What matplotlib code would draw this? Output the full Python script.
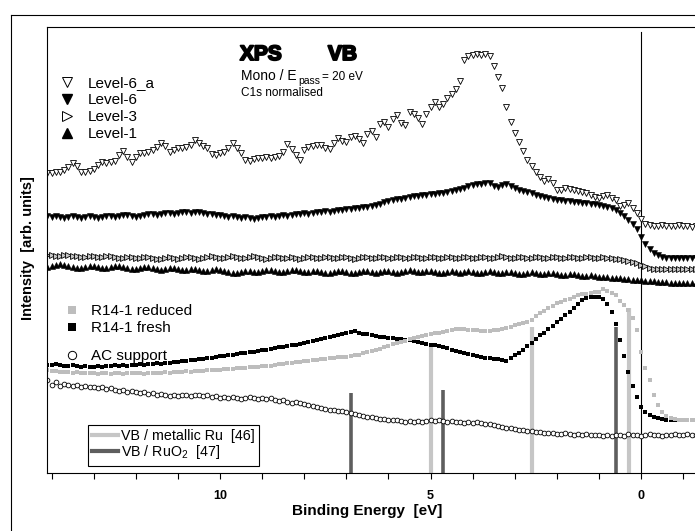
import numpy as np
import matplotlib
matplotlib.use("Agg")
import matplotlib.pyplot as plt
from matplotlib.lines import Line2D
from matplotlib import patheffects

plt.rcParams['font.family'] = ['Liberation Sans', 'DejaVu Sans']
plt.rcParams['mathtext.default'] = 'regular'

# --- datos (energia de enlace en eV, intensidad en unidades arbitrarias) ---
energia = np.arange(141, -14, -1) / 10.0   # 14.1 ... -1.3 eV

level6a = [
    300, 300, 301, 301, 303, 306, 310, 307, 301, 301,
    302, 304, 308, 311, 310, 311, 312, 318, 322, 316,
    311, 316, 320, 320, 321, 323, 326, 330, 327, 321,
    323, 325, 325, 326, 328, 333, 330, 327, 325, 319,
    318, 320, 321, 325, 330, 325, 320, 313, 312, 314,
    315, 315, 316, 315, 316, 317, 321, 329, 324, 318,
    313, 323, 326, 327, 328, 328, 325, 324, 330, 335,
    332, 331, 336, 337, 334, 330, 339, 342, 336, 349,
    351, 346, 354, 358, 350, 348, 361, 359, 355, 349,
    359, 366, 371, 366, 369, 375, 379, 384, 392, 413,
    417, 418, 419, 418, 419, 417, 407, 396, 385, 366,
    351, 340, 331, 322, 313, 307, 301, 296, 292, 294,
    290, 283, 283, 285, 284, 283, 282, 281, 280, 278,
    276, 275, 277, 278, 275, 273, 267, 268, 270, 265,
    260, 254, 249, 248, 247, 247, 248, 247, 247, 247,
    248, 247, 247, 246, 247]

level6 = [
    257, 256, 257, 256, 255, 256, 257, 256, 255, 256,
    257, 256, 255, 256, 257, 257, 256, 257, 258, 258,
    257, 256, 257, 258, 259, 259, 258, 259, 260, 260,
    259, 260, 261, 261, 260, 261, 261, 260, 259, 259,
    258, 258, 257, 256, 257, 256, 255, 256, 255, 254,
    255, 256, 256, 257, 256, 257, 258, 257, 258, 259,
    259, 260, 259, 260, 261, 261, 262, 261, 262, 263,
    263, 264, 264, 265, 265, 266, 266, 267, 268, 269,
    271, 272, 273, 274, 274, 275, 276, 277, 277, 278,
    278, 279, 279, 280, 280, 281, 282, 283, 284, 285,
    287, 288, 289, 289, 290, 290, 287, 286, 288, 289,
    287, 285, 283, 282, 281, 280, 278, 277, 276, 275,
    274, 273, 273, 272, 272, 271, 271, 270, 270, 269,
    269, 268, 267, 266, 265, 263, 260, 257, 253, 249,
    244, 236, 229, 224, 220, 218, 216, 215, 215, 215,
    215, 215, 215, 215, 215]

level3 = [
    218, 218, 217, 217, 218, 218, 217, 217, 216, 216,
    217, 217, 216, 216, 217, 217, 216, 215, 215, 216,
    216, 215, 215, 216, 216, 215, 214, 214, 215, 216,
    215, 214, 215, 216, 216, 215, 214, 215, 216, 217,
    216, 215, 215, 216, 217, 216, 215, 215, 216, 217,
    216, 215, 214, 215, 216, 216, 215, 215, 216, 215,
    214, 215, 216, 216, 215, 215, 216, 216, 215, 215,
    216, 216, 215, 214, 215, 216, 216, 215, 215, 216,
    216, 215, 215, 216, 216, 215, 215, 216, 216, 215,
    215, 216, 216, 215, 215, 216, 216, 215, 215, 216,
    216, 215, 215, 216, 216, 215, 215, 216, 217, 216,
    215, 215, 216, 216, 215, 215, 216, 216, 215, 215,
    216, 216, 215, 215, 216, 216, 215, 215, 216, 216,
    215, 215, 216, 215, 215, 214, 214, 213, 212, 211,
    210, 208, 207, 205, 204, 204, 204, 204, 204, 204,
    204, 204, 204, 204, 204]

level1 = [
    206, 207, 208, 209, 208, 207, 206, 205, 205, 206,
    207, 207, 206, 205, 205, 206, 207, 207, 206, 205,
    204, 204, 205, 206, 206, 205, 204, 203, 204, 205,
    205, 204, 203, 203, 204, 204, 203, 202, 202, 203,
    204, 203, 202, 201, 200, 200, 201, 202, 202, 201,
    201, 202, 203, 203, 202, 201, 201, 202, 203, 203,
    202, 201, 201, 202, 202, 201, 200, 200, 201, 202,
    202, 201, 200, 200, 201, 202, 202, 201, 200, 201,
    202, 202, 201, 200, 201, 202, 203, 202, 201, 201,
    202, 202, 201, 200, 200, 201, 202, 201, 200, 201,
    202, 201, 200, 200, 201, 202, 201, 200, 200, 201,
    201, 200, 199, 199, 200, 201, 200, 199, 199, 200,
    200, 199, 198, 198, 199, 199, 198, 197, 197, 198,
    197, 196, 196, 196, 195, 195, 195, 194, 194, 193,
    193, 193, 192, 192, 192, 191, 191, 191, 190, 190,
    190, 190, 190, 190, 190]

r14_fresh = [
    108, 108, 109, 108, 107, 107, 108, 107, 106, 107,
    106, 106, 107, 106, 107, 107, 108, 107, 108, 107,
    108, 108, 109, 108, 109, 109, 110, 109, 110, 110,
    111, 111, 112, 112, 113, 113, 114, 114, 115, 115,
    116, 117, 117, 118, 118, 119, 120, 120, 121, 121,
    122, 123, 123, 124, 125, 126, 126, 127, 128, 128,
    129, 130, 131, 132, 133, 134, 135, 136, 137, 138,
    139, 140, 141, 142, 140, 139, 139, 138, 137, 136,
    136, 135, 135, 134, 134, 133, 133, 132, 131, 130,
    129, 128, 128, 127, 126, 125, 123, 122, 121, 120,
    119, 118, 117, 116, 115, 115, 114, 114, 113, 112,
    115, 118, 120, 123, 127, 130, 134, 138, 140, 144,
    147, 151, 154, 158, 161, 165, 169, 173, 175, 176,
    176, 176, 174, 169, 161, 149, 133, 117, 101, 87,
    76, 66, 61, 58, 56, 55, 54, 53, 53, 53,
    53, 53, 53, 53, 53]

r14_reduced = [
    103, 102, 102, 101, 101, 101, 100, 101, 100, 100,
    100, 100, 99, 100, 100, 99, 100, 100, 99, 100,
    100, 100, 100, 99, 100, 100, 100, 100, 101, 100,
    101, 101, 101, 102, 101, 102, 102, 102, 103, 103,
    103, 103, 104, 104, 104, 105, 105, 105, 106, 106,
    106, 107, 107, 107, 108, 109, 109, 110, 110, 111,
    111, 112, 112, 113, 113, 114, 114, 115, 115, 116,
    116, 116, 117, 118, 118, 120, 121, 122, 123, 124,
    126, 127, 129, 130, 131, 132, 134, 135, 136, 137,
    138, 139, 140, 140, 141, 142, 143, 144, 144, 144,
    143, 143, 143, 142, 142, 142, 143, 143, 144, 145,
    146, 148, 149, 150, 151, 153, 157, 160, 162, 165,
    167, 170, 171, 173, 174, 176, 178, 179, 179, 180,
    181, 181, 184, 182, 180, 178, 172, 168, 163, 155,
    143, 121, 105, 93, 78, 68, 61, 57, 55, 54,
    53, 53, 53, 53, 53]

ac_support = [
    93, 88, 91, 87, 89, 88, 87, 88, 86, 87,
    86, 86, 85, 86, 84, 85, 83, 82, 83, 81,
    82, 81, 80, 81, 79, 80, 78, 79, 78, 77,
    78, 77, 78, 78, 77, 78, 78, 77, 78, 76,
    77, 75, 76, 75, 76, 75, 74, 75, 76, 75,
    74, 75, 74, 75, 73, 72, 73, 71, 70, 71,
    70, 69, 68, 67, 66, 65, 64, 63, 63, 62,
    62, 61, 60, 59, 58, 57, 56, 56, 55, 54,
    54, 53, 53, 53, 52, 51, 52, 51, 52, 51,
    52, 53, 52, 53, 52, 51, 52, 51, 51, 50,
    51, 50, 51, 50, 49, 49, 48, 47, 46, 45,
    45, 44, 43, 43, 42, 42, 41, 41, 40, 40,
    40, 39, 39, 40, 39, 38, 39, 38, 39, 38,
    38, 38, 37, 38, 37, 38, 38, 37, 39, 38,
    38, 37, 38, 39, 38, 38, 37, 38, 38, 39,
    38, 38, 39, 38, 38]

# lineas de referencia VB
ru_metal_E = [4.99, 2.59, 0.29]
ru_metal_h = [130, 146, 165]
ruo2_E = [6.89, 4.70, 0.59]
ruo2_h = [80, 83, 146]

GRIS_CLARO = '#c6c6c6'
GRIS_OSCURO = '#5e5e5e'
W, H = 695, 531


def fx(px):
    return px / W


def fy(py):
    return 1 - py / H


fig = plt.figure(figsize=(6.95, 5.31), dpi=100)
ax = fig.add_axes([fx(47), fy(473), fx(695) - fx(47), fy(27) - fy(473)])

# marco exterior
fig.add_artist(Line2D([fx(11), fx(11)], [fy(15), 0], color='black', lw=0.8))
fig.add_artist(Line2D([fx(11), 1], [fy(15), fy(15)], color='black', lw=0.8))

# lineas VB (barras verticales desde el fondo)
ax.vlines(ru_metal_E, 0, ru_metal_h, colors=GRIS_CLARO, lw=3.0, zorder=1.5)
ax.vlines(ruo2_E, 0, ruo2_h, colors=GRIS_OSCURO, lw=2.6, zorder=1.5)

# curvas
ax.plot(energia, ac_support, 'o', ms=3.4, mfc='white', mec='black', mew=0.6, ls='none')
ax.plot(energia, r14_fresh, 's', ms=3.4, color='black', mew=0, ls='none')
ax.plot(energia, r14_reduced, 's', ms=3.4, color='#bdbdbd', mew=0, ls='none')
ax.plot(energia, level1, '^', ms=4.4, color='black', mew=0.4, ls='none')
ax.plot(energia, level3, '>', ms=4.5, mfc='#c8c8c8', mec='black', mew=0.6, ls='none')
ax.plot(energia, level6, 'v', ms=4.4, color='black', mew=0.4, ls='none')
ax.plot(energia, level6a, 'v', ms=4.8, mfc='white', mec='black', mew=0.6, ls='none')

# linea en E = 0
ax.axvline(0, ymin=0, ymax=(473 - 32) / 446, color='black', lw=0.8, zorder=1)

ax.set_xlim(14.11, -1.28)
ax.set_ylim(0, 446)
ax.set_xticks([10, 5, 0])
ax.set_xticks(np.arange(-1, 15), minor=True)
ax.set_yticks([])
ax.tick_params(axis='x', which='both', direction='out', length=4, width=0.8,
               labelsize=9, pad=8)
for lab in ax.get_xticklabels():
    lab.set_fontweight('bold')
ax.spines['right'].set_visible(False)
for s in ['left', 'top', 'bottom']:
    ax.spines[s].set_linewidth(0.8)

fig.text(fx(367), fy(511), 'Binding Energy  [eV]', fontsize=11, fontweight='bold',
         ha='center', va='center')
fig.text(fx(28), fy(248), 'Intensity  [arb. units]', fontsize=10.5, fontweight='bold',
         ha='center', va='center', rotation=90)

# titulo interno
grueso = [patheffects.withStroke(linewidth=1.4, foreground='black')]
fig.text(fx(240), fy(60), 'XPS', fontsize=15, fontweight='bold',
         va='baseline', path_effects=grueso)
fig.text(fx(328), fy(60), 'VB', fontsize=15, fontweight='bold',
         va='baseline', path_effects=grueso)
fig.text(fx(241), fy(80), 'Mono / E', fontsize=10, va='baseline')
fig.text(fx(298), fy(84), 'pass', fontsize=7.5, va='baseline')
fig.text(fx(322), fy(80), '= 20 eV', fontsize=8.5, va='baseline')
fig.text(fx(241), fy(96), 'C1s normalised', fontsize=8.5, va='baseline')

# leyendas
h1 = [Line2D([], [], marker='v', ls='none', ms=6.5, mfc='white', mec='black', mew=0.7),
      Line2D([], [], marker='v', ls='none', ms=6.5, color='black'),
      Line2D([], [], marker='>', ls='none', ms=6.5, mfc='white', mec='black', mew=0.7),
      Line2D([], [], marker='^', ls='none', ms=6.5, color='black')]
leg1 = fig.legend(h1, ['Level-6_a', 'Level-6', 'Level-3', 'Level-1'],
                  loc='upper left', bbox_to_anchor=(fx(59), fy(76)), frameon=False,
                  fontsize=11, handlelength=1.0, handletextpad=0.85,
                  labelspacing=0.2, borderpad=0, borderaxespad=0)

h2 = [Line2D([], [], marker='s', ls='none', ms=6, color='#bdbdbd', mew=0),
      Line2D([], [], marker='s', ls='none', ms=6, color='black', mew=0)]
leg2 = fig.legend(h2, ['R14-1 reduced', 'R14-1 fresh'],
                  loc='upper left', bbox_to_anchor=(fx(64), fy(304)), frameon=False,
                  fontsize=11, handlelength=1.0, handletextpad=0.75,
                  labelspacing=0.2, borderpad=0, borderaxespad=0)

h3 = [Line2D([], [], marker='o', ls='none', ms=6, mfc='white', mec='black', mew=0.7)]
leg3 = fig.legend(h3, ['AC support'],
                  loc='upper left', bbox_to_anchor=(fx(64), fy(349)), frameon=False,
                  fontsize=11, handlelength=1.0, handletextpad=0.75,
                  borderpad=0, borderaxespad=0)

h4 = [Line2D([], [], color=GRIS_CLARO, lw=3.0),
      Line2D([], [], color=GRIS_OSCURO, lw=3.0)]
leg4 = fig.legend(h4, ['VB / metallic Ru  [46]', 'VB / RuO$_2$  [47]'],
                  loc='upper left', bbox_to_anchor=(fx(88), fy(425)), frameon=True,
                  fancybox=False, edgecolor='black', framealpha=1,
                  fontsize=10.3, handlelength=1.8, handletextpad=0.2,
                  labelspacing=0.0, borderpad=0.3, borderaxespad=0)
leg4.get_frame().set_linewidth(0.8)

fig.savefig('out.png', dpi=100)
